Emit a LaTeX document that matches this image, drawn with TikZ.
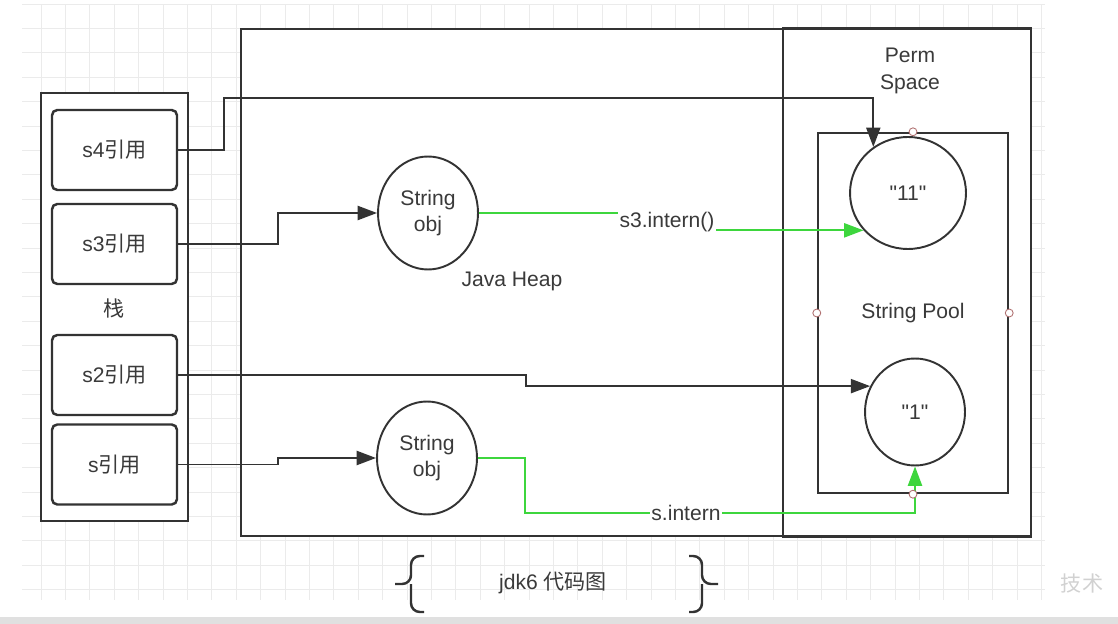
\documentclass[tikz,border=0pt]{standalone}
\usepackage{fontspec}
\setmainfont{Liberation Sans}[Ligatures=TeXOff]
\newfontfamily\cjk{Noto Sans CJK SC}
\usetikzlibrary{arrows.meta,shapes.geometric}
\definecolor{ink}{HTML}{333333}
\definecolor{txt}{HTML}{3A3A3A}
\definecolor{lime}{HTML}{3DD63D}
\definecolor{pin}{HTML}{B07070}
\begin{document}
\begin{tikzpicture}[x=0.02cm,y=-0.02cm,
	font=\fontsize{12}{15}\selectfont, text=txt,
	frame/.style={draw=ink, line width=1.4pt, fill=white, inner sep=0pt},
	ref/.style={draw=ink, line width=1.4pt, rounded corners=3pt, fill=white, minimum width=2.5cm, minimum height=1.6cm},
	blob/.style={draw=ink, line width=1.1pt, ellipse, fill=white, inner sep=0pt, align=center},
	conn/.style={draw=ink, line width=1.1pt, -{Triangle[length=11pt,width=8pt]}},
	gconn/.style={draw=lime, line width=1.1pt, -{Triangle[length=11pt,width=8pt]}},
	tag/.style={fill=white, inner sep=1pt},
	handle/.style={circle, draw=pin, fill=white, line width=0.5pt, minimum size=4.5pt, inner sep=0pt},
	brace/.style={draw=ink, line width=1.4pt, rounded corners=5pt},
	gridline/.style={draw=black!8, line width=0.4pt}]
	\useasboundingbox (0,0) rectangle (1118,624);
	% grid
	\foreach \k in {0,...,41}{\draw[gridline] ({41+24.4*\k},4) -- ({41+24.4*\k},600);}
	\foreach \k in {0,...,24}{\draw[gridline] (22,{4+24.4*\k}) -- (1045,{4+24.4*\k});}
	\fill[black!12] (0,617) rectangle (1118,624);
	% frames
	\node[frame, minimum width=2.94cm, minimum height=8.56cm] (stack) at (114.5,307) {};
	\node[frame, minimum width=10.84cm, minimum height=10.14cm] (heap) at (512,282.5) {};
	\node[frame, minimum width=4.96cm, minimum height=10.16cm] (perm) at (907,282.5) {};
	\node[frame, minimum width=3.8cm, minimum height=7.2cm] (pool) at (913,313) {};
	\node (stacklbl) at (114,308) {\cjk 栈};
	\node (heaplbl) at (512,281) {Java Heap};
	\node[align=center] (permlbl) at (910,71) {Perm\\Space};
	\node (poollbl) at (913,313) {String Pool};
	% references
	\foreach \n/\y/\t in {s4/150/s4, s3/244/s3, s2/375/s2, s1/464.5/s}{
		\node[ref] (\n) at (114.5,\y) {\t{\cjk 引用}};}
	\node[blob, minimum width=2cm, minimum height=2.26cm] (obj1) at (428,213) {String\\obj};
	\node[blob, minimum width=2cm, minimum height=2.26cm] (obj2) at (427,458) {String\\obj};
	\node[blob, minimum width=2.32cm, minimum height=2.24cm] (c11) at (908,193) {"11"};
	\node[blob, minimum width=2cm, minimum height=2.14cm] (c1) at (915,412) {"1"};
	\draw[conn] (s4.east) -| (224,98) -| (c11.127);
	\draw[conn] (s3.east) -- ++(100,0) |- (obj1.west);
	\draw[conn] (s2.east) -- ++(348,0) |- (c1.150);
	\draw[conn] (s1.east) -- ++(100,0) |- (obj2.west);
	\draw[gconn] (obj1.east) -| (667,222) |- (c11.220);
	\node[tag] (l3) at (667,222) {s3.intern()};
	\draw[gconn] (obj2.east) -| (525,513) -| (c1.south);
	\node[tag] (l1) at (686,513) {s.intern};
	\foreach \a in {north,west,east,south}{\node[handle] (h\a) at (pool.\a) {};}
	% braces
	\draw[brace] (424,556) -- (411,556) -- (411,584) -- (395,584);
	\draw[brace] (424,612) -- (411,612) -- (411,584);
	\draw[brace] (689,556) -- (702,556) -- (702,584) -- (718,584);
	\draw[brace] (689,612) -- (702,612) -- (702,584);
	\node (cap) at (553,583) {jdk6 {\cjk 代码图}};
	\node[text=black!18] (wm) at (1082,583) {\cjk 技术};
\end{tikzpicture}
\end{document}
